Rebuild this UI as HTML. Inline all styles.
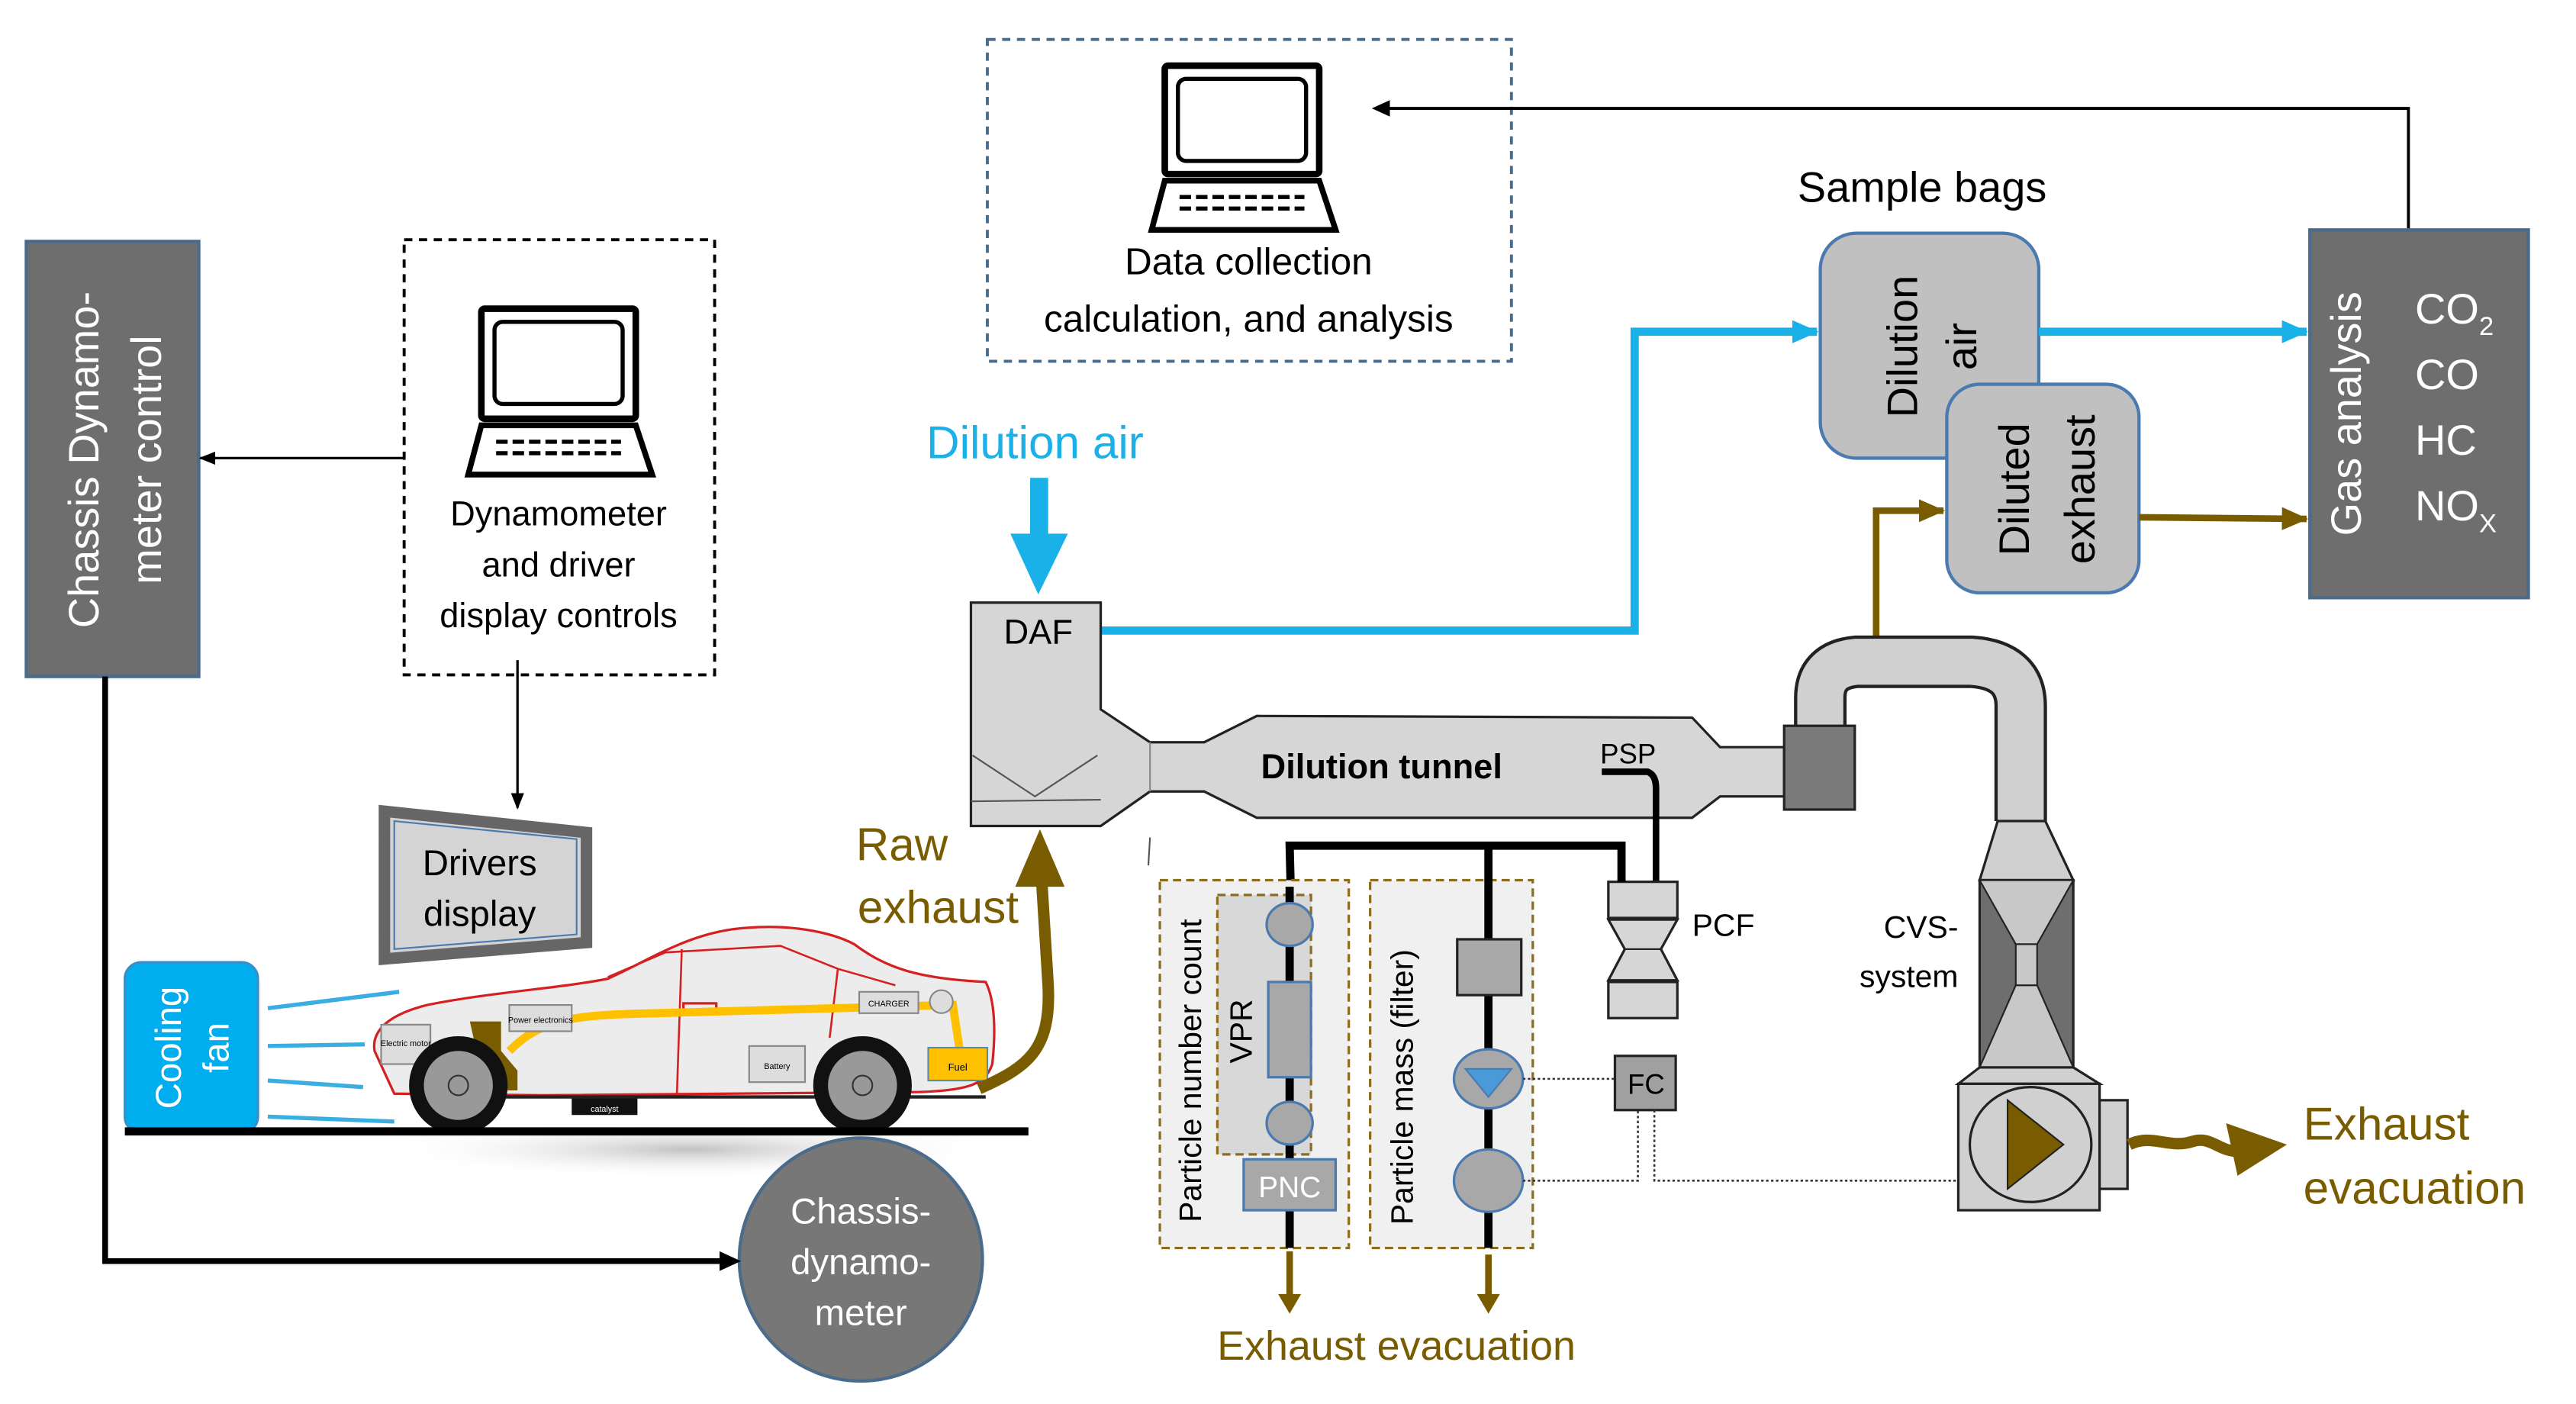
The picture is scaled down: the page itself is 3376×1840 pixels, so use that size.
<!DOCTYPE html>
<html><head><meta charset="utf-8"><style>
html,body{margin:0;padding:0;background:#fff}
svg{display:block}
text{font-family:"Liberation Sans","DejaVu Sans",sans-serif}
</style></head><body>
<svg width="3376" height="1840" viewBox="0 0 1568 855" preserveAspectRatio="none" xmlns="http://www.w3.org/2000/svg">
<defs>
<marker id="ab" markerWidth="10" markerHeight="10" refX="9" refY="5" orient="auto" markerUnits="userSpaceOnUse"><path d="M0,1 L10,5 L0,9z" fill="#000"/></marker>
<marker id="ablue" markerWidth="16" markerHeight="14" refX="15" refY="7" orient="auto" markerUnits="userSpaceOnUse"><path d="M0,0 L16,7 L0,14z" fill="#1ab0e8"/></marker>
<marker id="abr" markerWidth="16" markerHeight="14" refX="15" refY="7" orient="auto" markerUnits="userSpaceOnUse"><path d="M0,0 L16,7 L0,14z" fill="#7a5c00"/></marker>
<radialGradient id="sh" cx="0.5" cy="0.5" r="0.5"><stop offset="0" stop-color="#999" stop-opacity="0.6"/><stop offset="1" stop-color="#fff" stop-opacity="0"/></radialGradient>
</defs>

<!-- Chassis dynamometer control -->
<rect x="16" y="147" width="105" height="265" fill="#6e6e6e" stroke="#4a6b8a" stroke-width="2"/>
<text transform="translate(60,280) rotate(-90)" text-anchor="middle" font-size="26" fill="#fff">Chassis Dynamo-</text>
<text transform="translate(98,280) rotate(-90)" text-anchor="middle" font-size="26" fill="#fff">meter control</text>

<!-- dyn control dashed box -->
<rect x="246" y="146" width="189" height="265" fill="none" stroke="#000" stroke-width="1.8" stroke-dasharray="5,4"/>
<g stroke="#000" fill="none">
<rect x="293" y="188" width="94" height="67" stroke-width="4" rx="2"/>
<rect x="301" y="196" width="78" height="50" stroke-width="2.5" rx="5"/>
<path d="M293,259 L387,259 L397,289 L285,289 Z" stroke-width="3.5"/>
<path d="M302,269 h76 M302,276 h76" stroke-width="2.5" stroke-dasharray="7,3"/>
</g>
<text x="340" y="320" text-anchor="middle" font-size="21">Dynamometer</text>
<text x="340" y="351" text-anchor="middle" font-size="21">and driver</text>
<text x="340" y="382" text-anchor="middle" font-size="21">display controls</text>
<line x1="246" y1="279" x2="122" y2="279" stroke="#000" stroke-width="1.5" marker-end="url(#ab)"/>
<line x1="315" y1="402" x2="315" y2="492" stroke="#000" stroke-width="1.5" marker-end="url(#ab)"/>

<!-- drivers display -->
<path d="M234,494 L357,507 L357,574 L234,584 Z" fill="#d4d4d4" stroke="#666" stroke-width="7"/>
<path d="M240,500 L351,511 L351,569 L240,578 Z" fill="none" stroke="#4a7ab0" stroke-width="1"/>
<text x="292" y="533" text-anchor="middle" font-size="22">Drivers</text>
<text x="292" y="564" text-anchor="middle" font-size="22">display</text>

<!-- cooling fan -->
<rect x="76" y="586" width="81" height="104" rx="10" fill="#00aeef" stroke="#3a8ec8" stroke-width="1.5"/>
<text transform="translate(110,638) rotate(-90)" text-anchor="middle" font-size="22" fill="#fff">Cooling</text>
<text transform="translate(139,638) rotate(-90)" text-anchor="middle" font-size="22" fill="#fff">fan</text>
<g stroke="#3aaee0" stroke-width="2.5" fill="none">
<path d="M163,614 L243,604"/><path d="M163,637 L222,636"/><path d="M163,658 L221,662"/><path d="M163,680 L240,683"/>
</g>

<!-- car -->
<ellipse cx="420" cy="700" rx="190" ry="18" fill="url(#sh)"/>
<path d="M228,640 C226,628 236,618 260,612 C300,604 340,602 370,596 C395,585 420,567 455,565 C480,563 505,567 520,575 C540,590 560,596 600,598 C606,610 606,630 604,648 C600,660 590,664 560,665 L330,667 L240,666 Z" fill="#ececec" stroke="#d42020" stroke-width="1.5"/>
<path d="M370,595 L405,580 L475,576 L510,590 L545,600" fill="none" stroke="#d42020" stroke-width="1.2"/>
<path d="M415,578 L412,667 M510,590 L505,632" fill="none" stroke="#d42020" stroke-width="1.2"/>
<rect x="416" y="611" width="20" height="6" fill="none" stroke="#d42020" stroke-width="1.5"/>
<path d="M310,640 C330,620 350,618 400,617 L580,612 L585,645" fill="none" stroke="#ffc000" stroke-width="5"/>
<rect x="565" y="638" width="36" height="20" fill="#ffc000" stroke="#5a8ab0"/>
<text x="583" y="652" text-anchor="middle" font-size="6">Fuel</text>
<rect x="456" y="637" width="34" height="22" fill="#ddd" stroke="#888"/>
<text x="473" y="651" text-anchor="middle" font-size="5">Battery</text>
<rect x="310" y="612" width="38" height="16" fill="#ddd" stroke="#888"/>
<text x="329" y="623" text-anchor="middle" font-size="5">Power electronics</text>
<rect x="232" y="624" width="30" height="24" fill="#ddd" stroke="#888"/>
<text x="247" y="637" text-anchor="middle" font-size="5">Electric motor</text>
<rect x="523" y="604" width="36" height="13" fill="#ddd" stroke="#888"/>
<text x="541" y="613" text-anchor="middle" font-size="5">CHARGER</text>
<circle cx="573" cy="610" r="7" fill="#ddd" stroke="#888"/>
<path d="M286,622 L305,622 L305,640 L315,652 L315,664 L298,664 L290,640 Z" fill="#7a5c00"/>
<rect x="348" y="668" width="40" height="11" fill="#111"/>
<text x="368" y="677" text-anchor="middle" font-size="5" fill="#fff">catalyst</text>
<line x1="300" y1="668" x2="600" y2="668" stroke="#222" stroke-width="2"/>
<circle cx="279" cy="661" r="30" fill="#111"/><circle cx="279" cy="661" r="21" fill="#999"/><circle cx="279" cy="661" r="6" fill="none" stroke="#333"/>
<circle cx="525" cy="661" r="30" fill="#111"/><circle cx="525" cy="661" r="21" fill="#999"/><circle cx="525" cy="661" r="6" fill="none" stroke="#333"/>
<line x1="76" y1="689" x2="626" y2="689" stroke="#000" stroke-width="5"/>

<!-- raw exhaust -->
<path d="M596,663 C625,650 640,640 638,600 L634,535" fill="none" stroke="#7a5c00" stroke-width="7"/>
<path d="M618,540 L633,505 L648,540 Z" fill="#7a5c00"/>
<text x="549" y="524" text-anchor="middle" font-size="28" fill="#7a5c00">Raw</text>
<text x="571" y="562" text-anchor="middle" font-size="28" fill="#7a5c00">exhaust</text>

<!-- chassis dynamometer -->
<circle cx="524" cy="767" r="74" fill="#777" stroke="#4a6b8a" stroke-width="2"/>
<text x="524" y="745" text-anchor="middle" font-size="22" fill="#fff">Chassis-</text>
<text x="524" y="776" text-anchor="middle" font-size="22" fill="#fff">dynamo-</text>
<text x="524" y="807" text-anchor="middle" font-size="22" fill="#fff">meter</text>
<path d="M64,412 L64,768 L440,768" fill="none" stroke="#000" stroke-width="3.5"/>
<path d="M438,762 L451,768 L438,774 Z" fill="#000"/>

<!-- data collection -->
<rect x="601" y="24" width="319" height="196" fill="none" stroke="#4a6b8a" stroke-width="1.8" stroke-dasharray="5,4"/>
<g stroke="#000" fill="none">
<rect x="709" y="40" width="94" height="66" stroke-width="4" rx="2"/>
<rect x="717" y="48" width="78" height="50" stroke-width="2.5" rx="5"/>
<path d="M709,110 L803,110 L813,140 L701,140 Z" stroke-width="3.5"/>
<path d="M718,120 h76 M718,127 h76" stroke-width="2.5" stroke-dasharray="7,3"/>
</g>
<text x="760" y="167" text-anchor="middle" font-size="23">Data collection</text>
<text x="760" y="202" text-anchor="middle" font-size="23">calculation, and analysis</text>
<path d="M1466,140 L1466,66 L846,66" fill="none" stroke="#000" stroke-width="1.8"/>
<path d="M846,61 L835,66 L846,71 Z" fill="#000"/>

<!-- dilution air label -->
<text x="630" y="279" text-anchor="middle" font-size="28" fill="#1ab0e8">Dilution air</text>
<rect x="627" y="291" width="11" height="36" fill="#1ab0e8"/>
<path d="M615,325 L650,325 L632,362 Z" fill="#1ab0e8"/>

<!-- sample bags -->
<text x="1170" y="123" text-anchor="middle" font-size="26">Sample bags</text>
<path d="M670,384 L995,384 L995,202 L1106,202" fill="none" stroke="#1ab0e8" stroke-width="5" marker-end="url(#ablue)"/>
<rect x="1108" y="142" width="133" height="137" rx="22" fill="#c0c0c0" stroke="#4a7ab0" stroke-width="2"/>
<text transform="translate(1167,211) rotate(-90)" text-anchor="middle" font-size="26">Dilution</text>
<text transform="translate(1203,211) rotate(-90)" text-anchor="middle" font-size="26">air</text>
<rect x="1185" y="234" width="117" height="127" rx="20" fill="#c0c0c0" stroke="#4a7ab0" stroke-width="2"/>
<text transform="translate(1235,298) rotate(-90)" text-anchor="middle" font-size="26">Diluted</text>
<text transform="translate(1275,298) rotate(-90)" text-anchor="middle" font-size="26">exhaust</text>
<path d="M1241,202 L1404,202" fill="none" stroke="#1ab0e8" stroke-width="5" marker-end="url(#ablue)"/>
<path d="M1302,315 L1404,316" fill="none" stroke="#7a5c00" stroke-width="4" marker-end="url(#abr)"/>
<path d="M1142,392 L1142,311 L1183,311" fill="none" stroke="#7a5c00" stroke-width="4" marker-end="url(#abr)"/>

<!-- gas analysis -->
<rect x="1406" y="140" width="133" height="224" fill="#6e6e6e" stroke="#4a6b8a" stroke-width="2"/>
<text transform="translate(1437,252) rotate(-90)" text-anchor="middle" font-size="26" fill="#fff">Gas analysis</text>
<g font-size="26" fill="#fff">
<text x="1470" y="197">CO<tspan font-size="16" dy="7">2</tspan></text>
<text x="1470" y="237">CO</text>
<text x="1470" y="277">HC</text>
<text x="1470" y="317">NO<tspan font-size="16" dy="7">X</tspan></text>
</g>

<!-- DAF + tunnel -->
<path d="M591,367 L670,367 L670,432 L700,452 L733,452 L765,436 L1030,437 L1047,455 L1086,455 L1086,485 L1047,485 L1030,498 L765,498 L733,482 L700,482 L670,503 L591,503 Z" fill="#d6d6d6" stroke="#222" stroke-width="1.5"/>
<line x1="591" y1="488" x2="670" y2="487" stroke="#555" stroke-width="1"/>
<path d="M592,460 L630,485 L668,460" fill="none" stroke="#555" stroke-width="1"/>
<line x1="700" y1="452" x2="700" y2="482" stroke="#888" stroke-width="1"/>
<text x="632" y="392" text-anchor="middle" font-size="21">DAF</text>
<text x="841" y="474" text-anchor="middle" font-size="21" font-weight="bold">Dilution tunnel</text>
<text x="991" y="465" text-anchor="middle" font-size="17">PSP</text>
<path d="M975,470 L1003,470 Q1008,472 1008,480 L1008,540" fill="none" stroke="#000" stroke-width="4"/>
<line x1="700" y1="510" x2="699" y2="527" stroke="#555" stroke-width="1"/>

<!-- CVS duct -->
<path d="M1108,445 L1108,425 Q1108,405 1130,403 L1200,403 Q1230,405 1230,430 L1230,500" fill="none" stroke="#222" stroke-width="32"/>
<path d="M1108,447 L1108,425 Q1108,405 1130,403 L1200,403 Q1230,405 1230,430 L1230,502" fill="none" stroke="#d0d0d0" stroke-width="28"/>
<rect x="1086" y="442" width="43" height="51" fill="#7a7a7a" stroke="#222" stroke-width="1.5"/>
<path d="M1216,500 L1245,500 L1262,536 L1205,536 Z" fill="#d0d0d0" stroke="#222" stroke-width="1.5"/>
<rect x="1205" y="536" width="57" height="114" fill="#6e6e6e" stroke="#222" stroke-width="1.5"/>
<path d="M1205,536 L1262,536 L1240,575 L1227,575 Z M1205,650 L1262,650 L1240,600 L1227,600 Z" fill="#c8c8c8" stroke="#222" stroke-width="1"/>
<rect x="1227" y="575" width="13" height="25" fill="#c8c8c8" stroke="#222" stroke-width="1"/>
<path d="M1205,650 L1262,650 L1278,660 L1192,660 Z" fill="#d0d0d0" stroke="#222" stroke-width="1.5"/>
<rect x="1192" y="660" width="86" height="77" fill="#d0d0d0" stroke="#222" stroke-width="1.5"/>
<rect x="1278" y="670" width="17" height="54" fill="#d0d0d0" stroke="#222" stroke-width="1.5"/>
<ellipse cx="1236" cy="697" rx="37" ry="35" fill="#d0d0d0" stroke="#222" stroke-width="1.5"/>
<path d="M1222,670 L1256,697 L1222,724 Z" fill="#7a5c00" stroke="#222"/>
<text x="1192" y="571" text-anchor="end" font-size="19">CVS-</text>
<text x="1192" y="601" text-anchor="end" font-size="19">system</text>
<path d="M1296,697 C1310,690 1320,700 1335,695 C1345,692 1350,700 1360,701" fill="none" stroke="#7a5c00" stroke-width="7"/>
<path d="M1355,684 L1392,697 L1362,716 Z" fill="#7a5c00"/>
<text x="1402" y="694" font-size="28" fill="#7a5c00">Exhaust</text>
<text x="1402" y="733" font-size="28" fill="#7a5c00">evacuation</text>

<!-- PCF -->
<rect x="979" y="537" width="42" height="22" fill="#d6d6d6" stroke="#222" stroke-width="1.5"/>
<path d="M979,560 L1021,560 L1011,578 L1021,597 L979,597 L989,578 Z" fill="#d6d6d6" stroke="#222" stroke-width="1.5"/>
<line x1="989" y1="578" x2="1011" y2="578" stroke="#222"/>
<rect x="979" y="598" width="42" height="22" fill="#d6d6d6" stroke="#222" stroke-width="1.5"/>
<text x="1030" y="570" font-size="19">PCF</text>

<!-- sample lines -->
<path d="M786,555 L785,515 L987,515 L987,537" fill="none" stroke="#000" stroke-width="5"/>

<!-- particle boxes -->
<rect x="706" y="536" width="115" height="224" fill="#f0f0f0" stroke="#8a6d1e" stroke-width="1.5" stroke-dasharray="5,3"/>
<rect x="741" y="545" width="57" height="158" fill="#d8d8d8" stroke="#8a6d1e" stroke-width="1.5" stroke-dasharray="5,3"/>
<line x1="785" y1="540" x2="785" y2="760" stroke="#000" stroke-width="5"/>
<ellipse cx="785" cy="563" rx="14" ry="13" fill="#a8a8a8" stroke="#4a7ab0" stroke-width="1.5"/>
<rect x="772" y="598" width="26" height="58" fill="#a8a8a8" stroke="#4a7ab0" stroke-width="1.5"/>
<ellipse cx="785" cy="684" rx="14" ry="13" fill="#a8a8a8" stroke="#4a7ab0" stroke-width="1.5"/>
<rect x="757" y="706" width="56" height="31" fill="#a8a8a8" stroke="#4a7ab0" stroke-width="1.5"/>
<text x="785" y="729" text-anchor="middle" font-size="18" fill="#fff">PNC</text>
<text transform="translate(731,652) rotate(-90)" text-anchor="middle" font-size="19">Particle number count</text>
<text transform="translate(762,628) rotate(-90)" text-anchor="middle" font-size="19">VPR</text>

<rect x="834" y="536" width="99" height="224" fill="#f0f0f0" stroke="#8a6d1e" stroke-width="1.5" stroke-dasharray="5,3"/>
<line x1="906" y1="515" x2="906" y2="760" stroke="#000" stroke-width="5"/>
<rect x="887" y="572" width="39" height="34" fill="#a8a8a8" stroke="#222" stroke-width="1.5"/>
<ellipse cx="906" cy="657" rx="21" ry="18" fill="#a8a8a8" stroke="#4a7ab0" stroke-width="1.5"/>
<path d="M892,651 L920,651 L906,668 Z" fill="#4a9ad8" stroke="#4a7ab0"/>
<ellipse cx="906" cy="719" rx="21" ry="19" fill="#a8a8a8" stroke="#4a7ab0" stroke-width="1.5"/>
<text transform="translate(860,662) rotate(-90)" text-anchor="middle" font-size="19">Particle mass (filter)</text>

<!-- FC -->
<rect x="983" y="643" width="37" height="33" fill="#a0a0a0" stroke="#222" stroke-width="1.5"/>
<text x="1002" y="666" text-anchor="middle" font-size="17">FC</text>
<g stroke="#333" stroke-width="1.2" stroke-dasharray="1.5,1.5" fill="none">
<path d="M927,657 L983,657"/>
<path d="M927,719 L997,719 L997,676"/>
<path d="M1007,676 L1007,719 L1192,719"/>
</g>

<path d="M785,762 L785,790" stroke="#7a5c00" stroke-width="4"/><path d="M778,788 L792,788 L785,800 Z" fill="#7a5c00"/>
<path d="M906,764 L906,790" stroke="#7a5c00" stroke-width="4"/><path d="M899,788 L913,788 L906,800 Z" fill="#7a5c00"/>
<text x="850" y="828" text-anchor="middle" font-size="25" fill="#7a5c00">Exhaust evacuation</text>
</svg>
</body></html>
